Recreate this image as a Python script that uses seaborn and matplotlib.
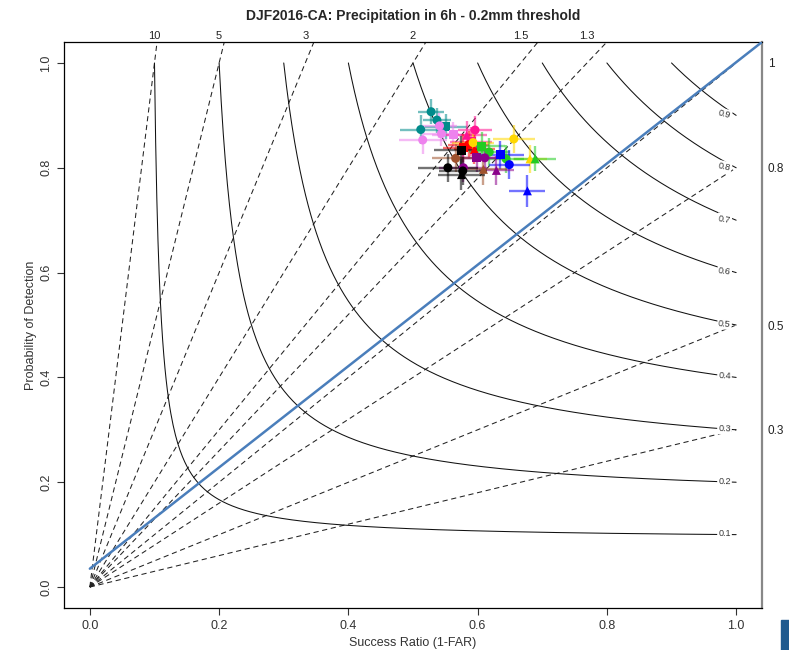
import numpy as np
import pandas as pd
import matplotlib
matplotlib.use("Agg")
import matplotlib.pyplot as plt
import seaborn as sns

# ---------------- data ----------------
title = "DJF2016-CA: Precipitation in 6h - 0.2mm threshold"
bias_values = [10, 5, 3, 2, 1.5, 1.3, 1, 0.8, 0.5, 0.3]
bias_top_labels = ["10", "5", "3", "2", "1.5", "1.3"]
bias_top_values = [10, 5, 3, 2, 1.5, 1.3]
bias_right_labels = ["1", "0.8", "0.5", "0.3"]
bias_right_values = [1.0, 0.8, 0.5, 0.3]
csi_values = [0.1, 0.2, 0.3, 0.4, 0.5, 0.6, 0.7, 0.8, 0.9]
blue_line_x = [0.0, 1.04]
blue_line_y = [0.035, 1.04]

sr = [0.528, 0.537, 0.551, 0.512,
      0.515, 0.541, 0.544, 0.562,
      0.596, 0.583, 0.590,
      0.586, 0.578, 0.595,
      0.656, 0.681, 0.593,
      0.606, 0.618, 0.644, 0.689,
      0.635, 0.649, 0.677,
      0.599, 0.611, 0.629, 0.578,
      0.609, 0.566,
      0.575, 0.554, 0.577, 0.575]
pod = [0.907, 0.891, 0.878, 0.873,
       0.853, 0.880, 0.865, 0.863,
       0.872, 0.862, 0.850,
       0.844, 0.838, 0.835,
       0.855, 0.817, 0.848,
       0.841, 0.830, 0.817, 0.817,
       0.825, 0.806, 0.756,
       0.819, 0.819, 0.795, 0.800,
       0.797, 0.818,
       0.833, 0.800, 0.794, 0.787]
sr_err = [0.020, 0.022, 0.032, 0.032,
          0.037, 0.027, 0.027, 0.032,
          0.027, 0.032, 0.032,
          0.032, 0.032, 0.032,
          0.032, 0.027, 0.032,
          0.037, 0.032, 0.027, 0.032,
          0.037, 0.032, 0.028,
          0.032, 0.032, 0.027, 0.037,
          0.037, 0.037,
          0.042, 0.047, 0.037, 0.037]
pod_err = [0.024, 0.024, 0.024, 0.027,
           0.027, 0.024, 0.024, 0.024,
           0.027, 0.027, 0.027,
           0.027, 0.027, 0.027,
           0.027, 0.027, 0.027,
           0.027, 0.027, 0.027, 0.024,
           0.027, 0.027, 0.030,
           0.027, 0.027, 0.027, 0.027,
           0.030, 0.027,
           0.027, 0.027, 0.027, 0.030]
model = ["teal"] * 4 + ["violet"] * 4 + ["deeppink"] * 3 + ["red"] * 3 + \
        ["gold"] * 3 + ["limegreen"] * 4 + ["blue"] * 3 + ["darkmagenta"] * 4 + \
        ["sienna"] * 2 + ["black"] * 4
kind = ["o", "o", "s", "o",
        "o", "o", "o", "s",
        "o", "^", "s",
        "o", "s", "^",
        "o", "^", "o",
        "s", "o", "o", "^",
        "s", "o", "^",
        "s", "o", "^", "o",
        "^", "o",
        "s", "o", "o", "^"]

colors = {"teal": "#008B8B", "violet": "#EE82EE", "deeppink": "#FF1493",
          "red": "#FF0000", "gold": "#FFD700", "limegreen": "#22CC22",
          "blue": "#0000FF", "darkmagenta": "#8B008B", "sienna": "#A0522D",
          "black": "#000000"}

df = pd.DataFrame({"SR": sr, "POD": pod, "xerr": sr_err, "yerr": pod_err,
                   "model": model, "kind": kind})

# ---------------- style ----------------
sns.set_style("white")
plt.rcParams["font.family"] = ["Liberation Sans", "DejaVu Sans"]

fig = plt.figure(figsize=(7.89, 6.50), dpi=100)
ax = fig.add_axes([64 / 789, 1 - 608 / 650, (762 - 64) / 789, (608 - 42) / 650])
lim = (-0.04, 1.04)
ax.set_xlim(lim)
ax.set_ylim(lim)

# bias (dashed) lines
for b in bias_values:
    if b > 1:
        xe = 1.04 / b
    else:
        xe = 1.0
    ax.plot([0, xe], [0, b * xe], color="#222222", lw=0.75, ls=(0, (5, 3.5)), zorder=1)

# CSI isolines
for c in csi_values:
    s = np.linspace(c, 1.0, 500)
    p = 1.0 / (1.0 / c - 1.0 / s + 1.0)
    m = p <= 1.0001
    sns.lineplot(x=s[m], y=p[m], ax=ax, color="#111111", lw=0.75, sort=False,
                 estimator=None, zorder=2)
    slope = -c * c * (527 / 646)
    ang = np.degrees(np.arctan(slope)) * 0.45
    ax.text(0.982, c + 0.002, f"{c:.1f}", fontsize=6.5, ha="center", va="center",
            rotation=ang, color="#333333", zorder=3,
            bbox=dict(boxstyle="square,pad=0.12", fc="white", ec="none"))

# blue line
ax.plot(blue_line_x, blue_line_y, color="#4A7EBB", lw=1.8, zorder=4)

# error bars
for _, r in df.iterrows():
    col = colors[r["model"]]
    ax.plot([r.SR - r.xerr, r.SR + r.xerr], [r.POD, r.POD], color=col,
            lw=1.7, alpha=0.55, zorder=5, solid_capstyle="butt")
    ax.plot([r.SR, r.SR], [r.POD - r.yerr, r.POD + r.yerr], color=col,
            lw=1.7, alpha=0.55, zorder=5, solid_capstyle="butt")

# points
sns.scatterplot(data=df, x="SR", y="POD", hue="model", style="kind",
                palette=colors, markers={"o": "o", "s": "s", "^": "^"},
                s=42, edgecolor="none", legend=False, ax=ax, zorder=6)

# axes cosmetics
ax.set_xticks([0, 0.2, 0.4, 0.6, 0.8, 1.0])
ax.set_yticks([0, 0.2, 0.4, 0.6, 0.8, 1.0])
ax.set_xticklabels(["0.0", "0.2", "0.4", "0.6", "0.8", "1.0"])
ax.set_yticklabels(["0.0", "0.2", "0.4", "0.6", "0.8", "1.0"], rotation=90, va="center")
ax.tick_params(axis="both", direction="out", length=5, width=0.8, labelsize=9,
               color="#333333", labelcolor="#333333", left=True, bottom=True)
ax.set_xlabel("Success Ratio (1-FAR)", fontsize=9, color="#333333", labelpad=4)
ax.set_ylabel("Probability of Detection", fontsize=9, color="#333333", labelpad=2)
for sp in ["left", "bottom", "top"]:
    ax.spines[sp].set_color("black")
    ax.spines[sp].set_linewidth(0.9)
ax.spines["right"].set_color("#888888")
ax.spines["right"].set_linewidth(1.6)
ax.set_title(title, fontsize=10, fontweight="bold", pad=16)

# top bias labels
axt = ax.twiny()
axt.set_xlim(lim)
axt.set_xticks([1.0 / b for b in bias_top_values])
axt.set_xticklabels(bias_top_labels, fontsize=8)
axt.tick_params(axis="x", length=0, pad=1, labelcolor="#222222")
# right bias labels
axr = ax.twinx()
axr.set_ylim(lim)
axr.set_yticks(bias_right_values)
axr.set_yticklabels(bias_right_labels, fontsize=8.5)
axr.tick_params(axis="y", length=0, pad=4, labelcolor="#222222")
for a in (axt, axr):
    for sp in a.spines.values():
        sp.set_visible(False)

# small fragment of a logo at bottom-right corner
fig.patches.append(matplotlib.patches.Rectangle((781 / 789, 0.0), 8 / 789, 30 / 650,
                                                transform=fig.transFigure,
                                                color="#1f5a8f", zorder=0))

fig.savefig("out.png", dpi=100)
